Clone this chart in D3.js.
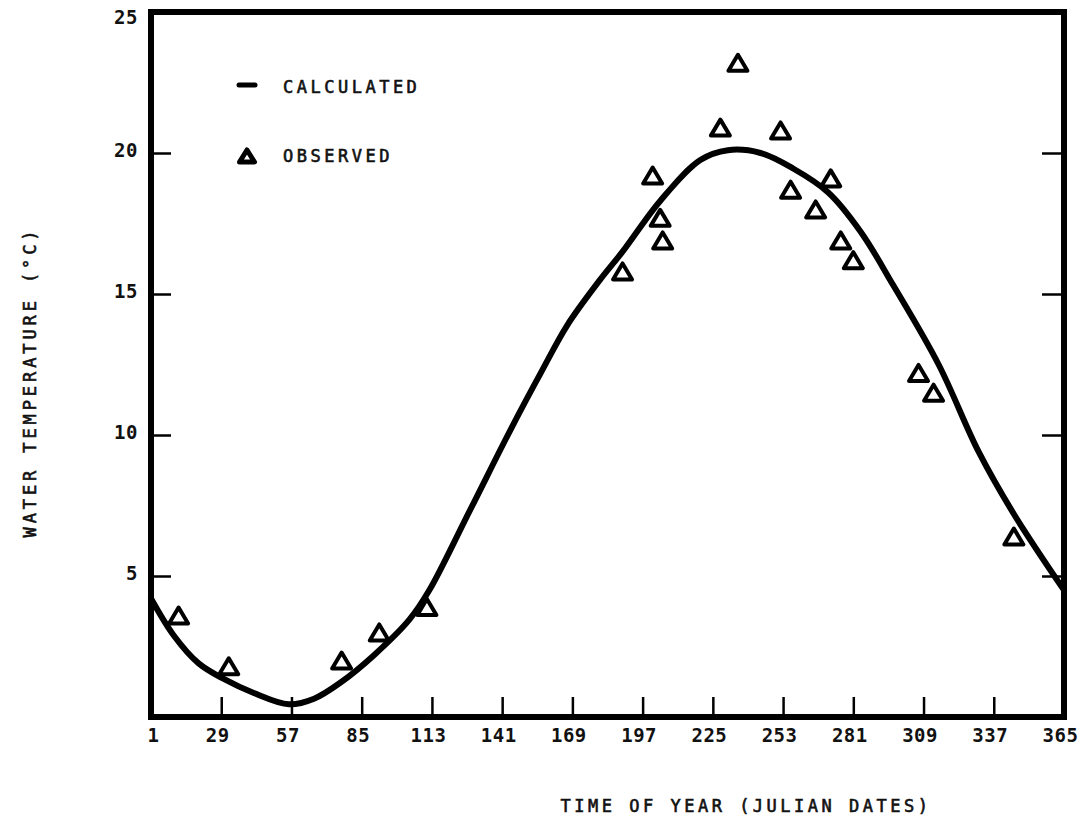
<!DOCTYPE html>
<html>
<head>
<meta charset="utf-8">
<script src="https://cdn.jsdelivr.net/npm/d3@7"></script>
<style>
  html, body { margin: 0; padding: 0; background: #fff; }
  svg { display: block; }
  text { font-family: "DejaVu Sans Mono", "Liberation Mono", monospace; fill: #111; }
</style>
</head>
<body>
<svg id="chart" width="1090" height="826"></svg>
<script>
// ---- data ----
const xTickValues = [1, 29, 57, 85, 113, 141, 169, 197, 225, 253, 281, 309, 337, 365];
const yTickValues = [5, 10, 15, 20, 25];

// calculated curve (Julian day, water temperature °C)
const calcDays  = [1, 10, 20, 30, 42, 56, 66, 77, 90, 104, 112, 128, 145, 157, 167, 180, 189, 204, 220, 231, 244, 257, 271, 284, 297, 315, 331, 345, 365];
const calcTemps = [4.2, 2.9, 1.9, 1.35, 0.85, 0.45, 0.65, 1.25, 2.2, 3.45, 4.5, 7.3, 10.3, 12.3, 13.9, 15.5, 16.5, 18.3, 19.75, 20.1, 20.0, 19.45, 18.6, 17.2, 15.3, 12.5, 9.4, 7.2, 4.5];

// observed points
const obsDays  = [12, 32, 77, 92, 111, 189, 201, 204, 205, 228, 235, 252, 256, 266, 272, 276, 281, 307, 313, 345];
const obsTemps = [3.6, 1.8, 2.0, 3.0, 3.9, 15.8, 19.2, 17.7, 16.9, 20.9, 23.2, 20.8, 18.7, 18.0, 19.1, 16.9, 16.2, 12.2, 11.5, 6.4];

const legendLabels = ["CALCULATED", "OBSERVED"];
const xTitle = "TIME OF YEAR (JULIAN DATES)";
const yTitle = "WATER TEMPERATURE (\u00B0C)";

// ---- layout ----
const svg = d3.select("#chart");
const x = d3.scaleLinear().domain([1, 365]).range([151, 1064]);
const y = d3.scaleLinear().domain([0, 25]).range([717, 12]);

// curve
const line = d3.line()
  .x((d, i) => x(calcDays[i]))
  .y((d, i) => y(calcTemps[i]))
  .curve(d3.curveCatmullRom.alpha(0.5));

svg.append("path")
  .datum(calcDays)
  .attr("d", line)
  .attr("fill", "none")
  .attr("stroke", "#000")
  .attr("stroke-width", 6)
  .attr("stroke-linecap", "round")
  .attr("stroke-linejoin", "round");

const tickFont = sel => sel
  .style("font-size", "19px")
  .style("font-weight", "bold")
  .style("letter-spacing", "0.5px")
  .style("font-family", "'DejaVu Sans Mono', monospace")
  .attr("fill", "#111");

// axes ticks
const xAxis = d3.axisBottom(x).tickValues(xTickValues).tickSize(-20).tickPadding(0).tickFormat(d3.format("d"));
const gx = svg.append("g").attr("transform", `translate(0,${y(0)})`).call(xAxis);
gx.select(".domain").remove();
gx.selectAll(".tick line").attr("stroke", "#000").attr("stroke-width", 2.5);
gx.selectAll(".tick").filter(d => d === 1 || d === 365).select("line").remove();
gx.selectAll(".tick text")
  .attr("y", 19)
  .attr("dy", "0")
  .attr("dx", d => d === 1 ? 2 : -4)
  .attr("dominant-baseline", "middle")
  .call(tickFont);

const yAxis = d3.axisLeft(y).tickValues(yTickValues).tickSize(-20).tickPadding(13);
const gy = svg.append("g").attr("transform", `translate(${x(1)},0)`).call(yAxis);
gy.select(".domain").remove();
gy.selectAll(".tick line").attr("stroke", "#000").attr("stroke-width", 2.5);
gy.selectAll(".tick").filter(d => d === 25).select("line").remove();
gy.selectAll(".tick text")
  .attr("dy", d => d === 25 ? 6 : -2)
  .attr("dominant-baseline", "middle")
  .call(tickFont);

const yAxisR = d3.axisRight(y).tickValues(yTickValues.filter(v => v < 25)).tickSize(-22).tickFormat("");
const gyr = svg.append("g").attr("transform", `translate(${x(365)},0)`).call(yAxisR);
gyr.select(".domain").remove();
gyr.selectAll(".tick line").attr("stroke", "#000").attr("stroke-width", 2.5);

// frame
svg.append("rect")
  .attr("x", x(1)).attr("y", y(25))
  .attr("width", x(365) - x(1)).attr("height", y(0) - y(25))
  .attr("fill", "none")
  .attr("stroke", "#000")
  .attr("stroke-width", 6);

// observed triangles
function tri(cx, cy, w, h) {
  return `M${cx},${cy - h / 2}L${cx + w / 2},${cy + h / 2}L${cx - w / 2},${cy + h / 2}Z`;
}
svg.append("g").selectAll("path")
  .data(obsDays)
  .join("path")
  .attr("d", (d, i) => tri(x(d), y(obsTemps[i]), 19, 16))
  .attr("fill", "#fff")
  .attr("stroke", "#000")
  .attr("stroke-width", 4)
  .attr("stroke-linejoin", "round");

const labelFont = sel => sel
  .style("font-size", "17px")
  .style("letter-spacing", "3.5px")
  .attr("stroke", "#111")
  .attr("stroke-width", 0.6);

// legend
const lg = svg.append("g");
lg.append("line")
  .attr("x1", 239).attr("x2", 255).attr("y1", 85).attr("y2", 85)
  .attr("stroke", "#000").attr("stroke-width", 5).attr("stroke-linecap", "round");
lg.append("path")
  .attr("d", tri(247, 156, 15, 12))
  .attr("fill", "#fff").attr("stroke", "#000").attr("stroke-width", 5).attr("stroke-linejoin", "round");
lg.selectAll("text")
  .data(legendLabels)
  .join("text")
  .attr("x", 283)
  .attr("y", (d, i) => i === 0 ? 88 : 157)
  .attr("dominant-baseline", "middle")
  .call(labelFont)
  .text(d => d);

// axis titles
svg.append("text")
  .attr("x", 746).attr("y", 807)
  .attr("text-anchor", "middle")
  .attr("dominant-baseline", "middle")
  .call(labelFont)
  .text(xTitle);

svg.append("text")
  .attr("transform", "translate(31,382) rotate(-90)")
  .attr("text-anchor", "middle")
  .attr("dominant-baseline", "middle")
  .call(labelFont)
  .style("letter-spacing", "3.9px")
  .text(yTitle);
</script>
</body>
</html>
